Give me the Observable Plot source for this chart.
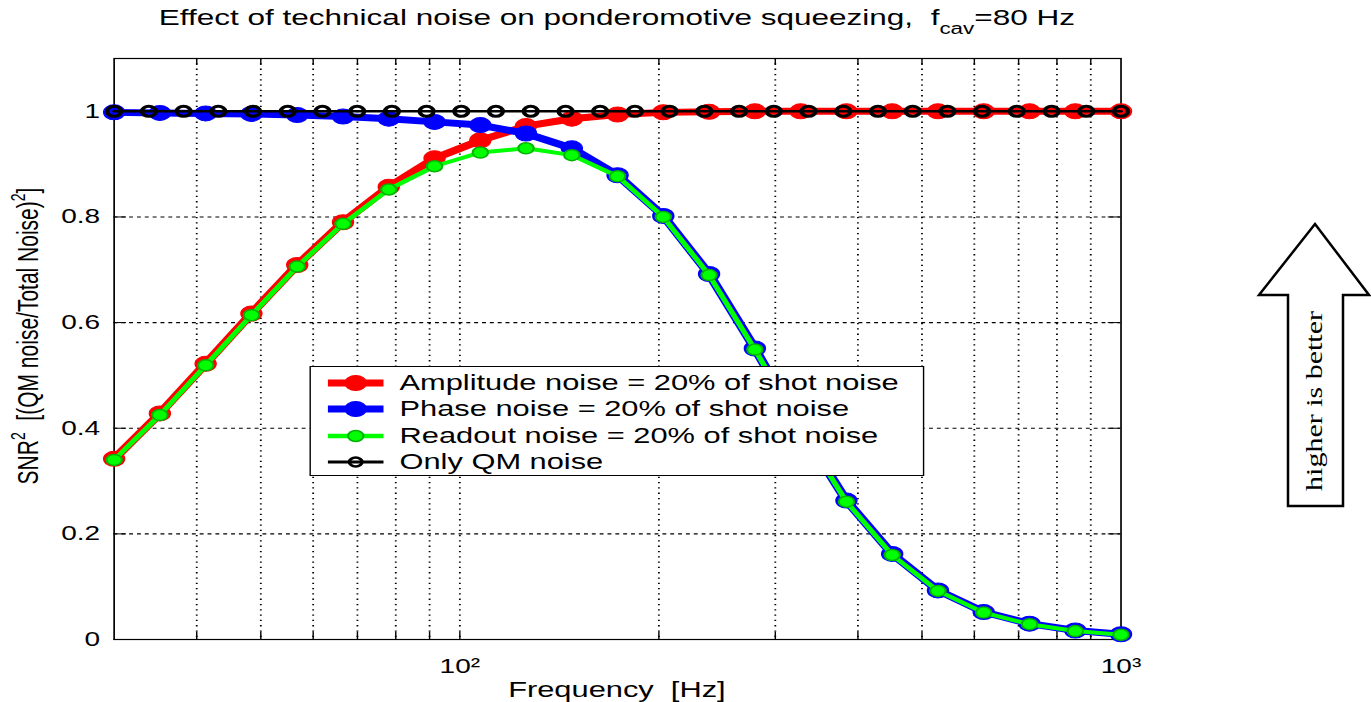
<!DOCTYPE html>
<html>
<head>
<meta charset="utf-8">
<script src="https://cdn.jsdelivr.net/npm/d3@7"></script>
<script src="https://cdn.jsdelivr.net/npm/@observablehq/plot@0.6"></script>
<style>
  html, body { margin: 0; padding: 0; background: #fff; }
  body { width: 1371px; height: 702px; overflow: hidden; position: relative;
         font-family: "Liberation Sans", Arial, Helvetica, sans-serif; color: #000; }
  #stage { position: absolute; left: 0; top: 0; width: 979px; height: 702px;
           transform: scaleX(1.4004); transform-origin: 0 0; }
  #title { position: absolute; left: 81px; width: 719px; top: 6px; text-align: center;
           font-size: 22.5px; line-height: 24px; white-space: nowrap; }
  #title .sub { font-size: 16px; position: relative; top: 9px; }
  #chart { position: absolute; left: 0; top: 40px; }
  #xlabel { position: absolute; left: 81px; width: 719px; top: 677px; text-align: center;
            font-size: 22px; line-height: 26px; white-space: pre; }
  #ylabel { position: absolute; left: -180px; width: 400px; top: 322px; height: 28px;
            text-align: center; font-size: 21px; line-height: 28px; white-space: pre;
            transform: rotate(-90deg); transform-origin: 50% 50%; }
  #ylabel .sup { font-size: 14px; position: relative; top: -9px; }
  #legend { position: absolute; left: 220.7px; top: 366px; width: 437px; height: 108px;
            border: 1.2px solid #000; background: #fff; }
  .lrow { position: absolute; left: 0; width: 437px; height: 26px; }
  .lrow svg { position: absolute; left: 12px; top: 0; }
  .lrow .ltext { position: absolute; left: 63.6px; top: 0; font-size: 22px; line-height: 26px; white-space: nowrap; }
  #arrow { position: absolute; left: 0; top: 0; }
</style>
</head>
<body>
<div id="stage">
  <div id="title">Effect of technical noise on ponderomotive squeezing,&nbsp; f<span class="sub">cav</span>=80 Hz</div>
  <div id="chart"></div>
  <div id="ylabel">SNR<span class="sup">2</span>  [(QM noise/Total Noise)<span class="sup">2</span>]</div>
  <div id="xlabel">Frequency  [Hz]</div>
  <div id="legend"></div>
</div>
<svg id="arrow" width="1371" height="702"></svg>
<script>
// ---------------- data ----------------
const freqColored = [30, 35.18, 41.26, 48.39, 56.76, 66.57, 78.07, 91.56, 107.4, 125.9, 147.7, 173.2,
                     203.1, 238.2, 279.4, 327.7, 384.3, 450.7, 528.6, 619.9, 727.1, 852.7, 1000];
const amplitudeNoise = [0.342, 0.428, 0.522, 0.617, 0.709, 0.790, 0.857, 0.911, 0.945, 0.972, 0.986, 0.994,
                        0.998, 0.999, 1, 1, 1, 1, 1, 1, 1, 1, 1];
const phaseNoise = [0.998, 0.997, 0.996, 0.995, 0.993, 0.990, 0.986, 0.980, 0.974, 0.958, 0.930, 0.879,
                    0.802, 0.692, 0.551, 0.400, 0.263, 0.162, 0.093, 0.052, 0.030, 0.017, 0.010];
const readoutNoise = [0.340, 0.425, 0.519, 0.614, 0.706, 0.787, 0.852, 0.896, 0.922, 0.930, 0.917, 0.877,
                      0.800, 0.690, 0.549, 0.399, 0.261, 0.160, 0.092, 0.051, 0.029, 0.016, 0.009];
const freqQM = [30, 33.86, 38.21, 43.12, 48.66, 54.91, 61.97, 69.94, 78.93, 89.07, 100.5, 113.4, 128.0,
                144.5, 163.0, 184.0, 207.6, 234.3, 264.4, 298.4, 336.8, 380.1, 428.9, 484.1, 546.3,
                616.5, 695.7, 785.2, 886.1, 1000];
const qmOnly = [1, 1, 1, 1, 1, 1, 1, 1, 1, 1, 1, 1, 1, 1, 1, 1, 1, 1, 1, 1, 1, 1, 1, 1, 1, 1, 1, 1, 1, 1];

const seriesNames = ["Amplitude noise = 20% of shot noise", "Phase noise = 20% of shot noise",
                     "Readout noise = 20% of shot noise", "Only QM noise"];
const seriesColors = ["#ff0000", "#0000ff", "#00ff00", "#000000"];

const xDomain = [30, 1000];
const yDomain = [0, 1.1];
const xGrid = [40, 50, 60, 70, 80, 90, 100, 200, 300, 400, 500, 600, 700, 800, 900];
const xTicks = [100, 1000];
const xTickLabels = ["10²", "10³"];
const yTicks = [0, 0.2, 0.4, 0.6, 0.8, 1];
const yTickLabels = ["0", "0.2", "0.4", "0.6", "0.8", "1"];

// ---------------- layout ----------------
const W = 979, H = 662;
const mL = 81, mR = 179, mT = 18, mB = 63;
const plotW = W - mL - mR, plotH = H - mT - mB;

const colored = freqColored.map((f, i) => ({f, amp: amplitudeNoise[i], phase: phaseNoise[i], read: readoutNoise[i]}));
const qm = freqQM.map((f, i) => ({f, v: qmOnly[i]}));

const chart = Plot.plot({
  width: W, height: H,
  marginLeft: mL, marginRight: mR, marginTop: mT, marginBottom: mB,
  x: {type: "log", domain: xDomain},
  y: {domain: yDomain},
  style: {fontFamily: "'Liberation Sans', Arial, sans-serif", fontSize: "20px", color: "#000", background: "white", overflow: "visible"},
  marks: [
    Plot.ruleX(xGrid, {x: d => d, stroke: "#000", strokeWidth: 1.3, strokeDasharray: "1.3,4"}),
    Plot.ruleY(yTicks.filter(d => d > 0), {y: d => d, stroke: "#000", strokeWidth: 1.1, strokeDasharray: "2.8,2.8"}),
    Plot.tickX(xGrid, {x: d => d, stroke: "#000", strokeWidth: 1, insetTop: plotH - 7}),
    Plot.tickX(xGrid, {x: d => d, stroke: "#000", strokeWidth: 1, insetBottom: plotH - 7}),
    Plot.tickY(yTicks, {y: d => d, stroke: "#000", strokeWidth: 1, insetRight: plotW - 9}),
    Plot.tickY(yTicks, {y: d => d, stroke: "#000", strokeWidth: 1, insetLeft: plotW - 9}),
    Plot.frame({stroke: "#000", strokeWidth: 1.2}),
    // amplitude noise (red)
    Plot.line(colored, {x: "f", y: "amp", stroke: seriesColors[0], strokeWidth: 7, strokeLinejoin: "round"}),
    Plot.dot(colored, {x: "f", y: "amp", r: 7.5, fill: seriesColors[0], stroke: seriesColors[0], strokeWidth: 1}),
    // phase noise (blue)
    Plot.line(colored, {x: "f", y: "phase", stroke: seriesColors[1], strokeWidth: 7, strokeLinejoin: "round"}),
    Plot.dot(colored, {x: "f", y: "phase", r: 7.5, fill: seriesColors[1], stroke: seriesColors[1], strokeWidth: 1}),
    // readout noise (green)
    Plot.line(colored, {x: "f", y: "read", stroke: seriesColors[2], strokeWidth: 4, strokeLinejoin: "round"}),
    Plot.dot(colored, {x: "f", y: "read", r: 5.5, fill: seriesColors[2], stroke: "#00b400", strokeWidth: 1.5}),
    // only QM noise (black)
    Plot.line(qm, {x: "f", y: "v", stroke: seriesColors[3], strokeWidth: 2.5}),
    Plot.dot(qm, {x: "f", y: "v", r: 5, fill: "none", stroke: seriesColors[3], strokeWidth: 3}),
    Plot.axisX(xTicks, {tickSize: 0, tickPadding: 19, label: null, fontSize: 20,
                        tickFormat: d => xTickLabels[xTicks.indexOf(d)]}),
    Plot.axisY(yTicks, {tickSize: 0, tickPadding: 10, label: null, fontSize: 20,
                        tickFormat: d => yTickLabels[yTicks.indexOf(d)]})
  ]
});
document.getElementById("chart").appendChild(chart);

// ---------------- legend ----------------
const legend = document.getElementById("legend");
const rowCenters = [15.7, 42.3, 68.5, 95.2];
const legendStyles = [
  {lw: 7, r: 7.5, fill: seriesColors[0], stroke: seriesColors[0], sw: 1},
  {lw: 7, r: 7.5, fill: seriesColors[1], stroke: seriesColors[1], sw: 1},
  {lw: 4.5, r: 5.5, fill: seriesColors[2], stroke: "#00b400", sw: 1.5},
  {lw: 3, r: 4.5, fill: "none", stroke: seriesColors[3], sw: 2.5}
];
seriesNames.forEach((name, i) => {
  const row = document.createElement("div");
  row.className = "lrow";
  row.style.top = (rowCenters[i] - 13) + "px";
  const s = legendStyles[i];
  row.innerHTML =
    `<svg width="40" height="26"><line x1="0" x2="40" y1="13" y2="13" stroke="${seriesColors[i]}" stroke-width="${s.lw}"/>` +
    `<circle cx="20" cy="13" r="${s.r}" fill="${s.fill}" stroke="${s.stroke}" stroke-width="${s.sw}"/></svg>` +
    `<div class="ltext">${name}</div>`;
  legend.appendChild(row);
});

// ---------------- "higher is better" arrow ----------------
const arrow = d3.select("#arrow");
arrow.append("polygon")
  .attr("points", "1315,224 1369,295 1343,295 1343,506 1288,506 1288,295 1259,295")
  .attr("fill", "#fff").attr("stroke", "#000").attr("stroke-width", 2.5).attr("stroke-linejoin", "miter");
arrow.append("text")
  .attr("transform", "translate(1322,401) scale(0.78,1) rotate(-90)")
  .attr("text-anchor", "middle")
  .attr("font-family", "'Liberation Serif', 'Times New Roman', serif")
  .attr("font-size", 30)
  .text("higher is better");
</script>
</body>
</html>
